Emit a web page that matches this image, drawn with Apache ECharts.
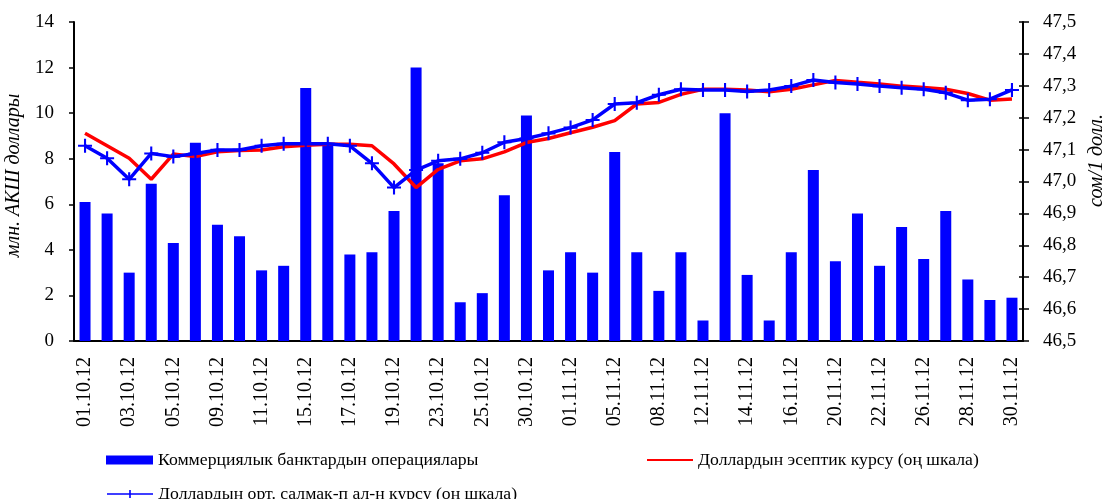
<!DOCTYPE html>
<html>
<head>
<meta charset="utf-8">
<script src="https://cdn.jsdelivr.net/npm/echarts@6/dist/echarts.min.js"></script>
<style>
html,body{margin:0;padding:0;background:#fff;}
#main{width:1102px;height:499px;}
</style>
</head>
<body>
<div id="main"></div>
<script>
// даталар
var dates = ['01.10.12','02.10.12','03.10.12','04.10.12','05.10.12','08.10.12','09.10.12','10.10.12','11.10.12','12.10.12',
    '15.10.12','16.10.12','17.10.12','18.10.12','19.10.12','22.10.12','23.10.12','24.10.12','25.10.12','29.10.12',
    '30.10.12','31.10.12','01.11.12','02.11.12','05.11.12','06.11.12','08.11.12','09.11.12','12.11.12','13.11.12',
    '14.11.12','15.11.12','16.11.12','19.11.12','20.11.12','21.11.12','22.11.12','23.11.12','26.11.12','27.11.12',
    '28.11.12','29.11.12','30.11.12'];
// Коммерциялык банктардын операциялары (млн. АКШ доллары)
var operations = [6.1, 5.6, 3.0, 6.9, 4.3, 8.7, 5.1, 4.6, 3.1, 3.3,
    11.1, 8.6, 3.8, 3.9, 5.7, 12.0, 7.8, 1.7, 2.1, 6.4,
    9.9, 3.1, 3.9, 3.0, 8.3, 3.9, 2.2, 3.9, 0.9, 10.0,
    2.9, 0.9, 3.9, 7.5, 3.5, 5.6, 3.3, 5.0, 3.6, 5.7,
    2.7, 1.8, 1.9];
// Доллардын эсептик курсу
var officialRate = [47.151, 47.112, 47.073, 47.007, 47.086, 47.078, 47.093, 47.097, 47.099, 47.109,
    47.114, 47.117, 47.117, 47.112, 47.055, 46.981, 47.038, 47.065, 47.071, 47.093,
    47.122, 47.135, 47.153, 47.170, 47.191, 47.243, 47.248, 47.273, 47.289, 47.289,
    47.287, 47.281, 47.289, 47.303, 47.317, 47.311, 47.306, 47.299, 47.295, 47.289,
    47.276, 47.255, 47.259];
// Доллардын орт. салмак-п ал-н курсу
var avgRate = [47.112, 47.073, 47.007, 47.088, 47.078, 47.088, 47.099, 47.099, 47.112, 47.118,
    47.118, 47.118, 47.112, 47.057, 46.981, 47.036, 47.065, 47.071, 47.090, 47.123,
    47.135, 47.151, 47.169, 47.193, 47.243, 47.247, 47.272, 47.289, 47.287, 47.287,
    47.282, 47.287, 47.299, 47.318, 47.310, 47.306, 47.299, 47.294, 47.289, 47.278,
    47.255, 47.258, 47.287];

var serif = '"Liberation Serif", "Times New Roman", serif';
var plus = 'path://M-1.5,-10L1.5,-10L1.5,-1.5L10,-1.5L10,1.5L1.5,1.5L1.5,10L-1.5,10L-1.5,1.5L-10,1.5L-10,-1.5L-1.5,-1.5Z';
// легенда белгилери
var redIcon = 'path://M0,0L46,0L46,2L0,2Z';
var blueIcon = 'path://M0,6.2L46,6.2L46,7.8L0,7.8Z M22.2,3L23.8,3L23.8,11L22.2,11Z';
var legText = { fontFamily: serif, fontSize: 17.7, color: '#000' };

var myChart = echarts.init(document.getElementById('main'));
var option = {
    animation: false,
    backgroundColor: '#fff',
    grid: { left: 74, right: 79, top: 22, bottom: 158, outerBoundsMode: 'none', containLabel: false },
    legend: [
        {
            left: 101, top: 446, itemWidth: 47, itemHeight: 9, itemGap: 6,
            data: [{ name: 'Коммерциялык банктардын операциялары', icon: 'rect' }],
            textStyle: legText
        },
        {
            left: 642, top: 446, itemWidth: 46, itemHeight: 2, itemGap: 9,
            data: [{ name: 'Доллардын эсептик курсу (оң шкала)', icon: redIcon }],
            textStyle: legText
        },
        {
            left: 102, top: 480, itemWidth: 46, itemHeight: 14, itemGap: 6,
            data: [{ name: 'Доллардын орт. салмак-п ал-н курсу (оң шкала)', icon: blueIcon }],
            textStyle: legText
        }
    ],
    xAxis: {
        type: 'category',
        data: dates,
        axisLine: { lineStyle: { color: '#000', width: 2 } },
        axisTick: { interval: 0, length: 6, lineStyle: { color: '#000', width: 1.5 } },
        axisLabel: { interval: 1, rotate: 90, margin: 16, fontFamily: serif, fontSize: 20, color: '#000' }
    },
    yAxis: [
        {
            type: 'value', min: 0, max: 14, interval: 2,
            name: 'млн. АКШ доллары', nameLocation: 'middle', nameGap: 46, nameRotate: 90,
            nameTextStyle: { fontFamily: serif, fontStyle: 'italic', fontSize: 20, color: '#000', padding: [0, 0, 0, 12] },
            axisLine: { show: true, lineStyle: { color: '#000', width: 2 } },
            axisTick: { show: true, length: 5, lineStyle: { color: '#000', width: 1.5 } },
            splitLine: { show: false },
            axisLabel: { margin: 20, fontFamily: serif, fontSize: 19, color: '#000' }
        },
        {
            type: 'value', min: 46.5, max: 47.5, interval: 0.1, position: 'right',
            name: 'сом/1 долл.', nameLocation: 'middle', nameGap: 62, nameRotate: 90,
            nameTextStyle: { fontFamily: serif, fontStyle: 'italic', fontSize: 20, color: '#000', padding: [0, 0, 0, 42] },
            axisLine: { show: true, lineStyle: { color: '#000', width: 2 } },
            axisTick: { show: true, length: 6, lineStyle: { color: '#000', width: 1.5 } },
            splitLine: { show: false },
            axisLabel: {
                margin: 20, fontFamily: serif, fontSize: 19, color: '#000',
                formatter: function(v){ return v.toFixed(1).replace('.', ','); }
            }
        },
        {
            // оң шкаланын ички белгилери
            type: 'value', min: 46.5, max: 47.5, interval: 0.1, position: 'right',
            axisLine: { show: false },
            axisTick: { show: true, inside: true, length: 4, lineStyle: { color: '#000', width: 1.5 } },
            axisLabel: { show: false },
            splitLine: { show: false }
        }
    ],
    series: [
        {
            name: 'Коммерциялык банктардын операциялары',
            type: 'bar', data: operations, barWidth: 11,
            itemStyle: { color: '#0000ff' }
        },
        {
            name: 'Доллардын эсептик курсу (оң шкала)',
            type: 'line', yAxisIndex: 1, data: officialRate,
            showSymbol: false, symbol: 'none',
            lineStyle: { color: '#ff0000', width: 3.5 },
            itemStyle: { color: '#ff0000' }
        },
        {
            name: 'Доллардын орт. салмак-п ал-н курсу (оң шкала)',
            type: 'line', yAxisIndex: 1, data: avgRate,
            symbol: plus, symbolSize: 14,
            lineStyle: { color: '#0000ff', width: 3.5 },
            itemStyle: { color: '#0000ff' }
        }
    ]
};
myChart.setOption(option);
</script>
</body>
</html>
